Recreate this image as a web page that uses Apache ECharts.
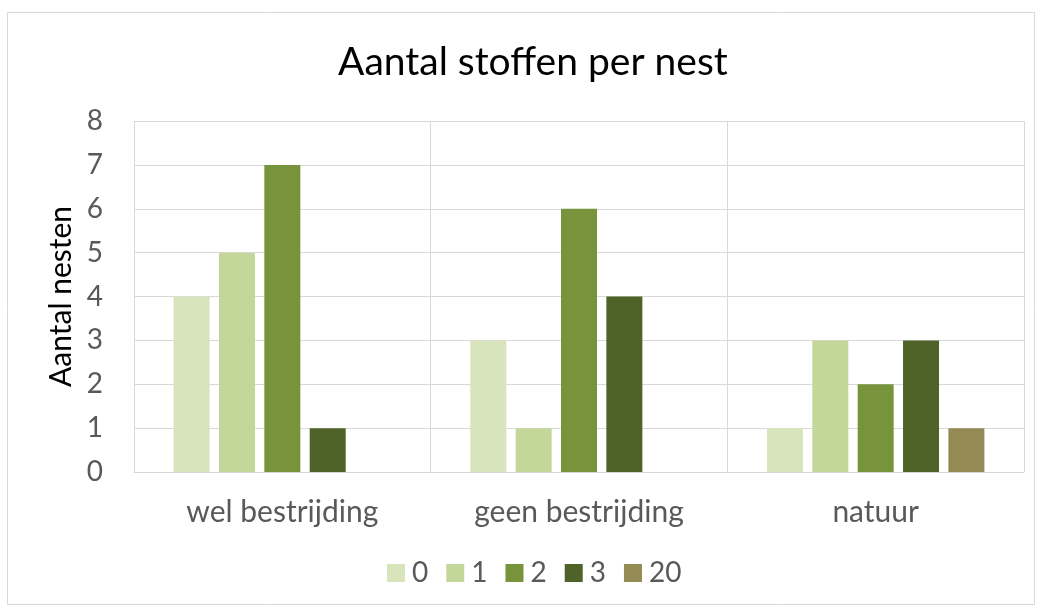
<!DOCTYPE html>
<html><head><meta charset="utf-8">
<script src="https://cdn.jsdelivr.net/npm/echarts@6/dist/echarts.min.js"></script>
<style>html,body{margin:0;padding:0;background:#fff}#c{width:1041px;height:609px}</style>
</head><body><div id="c"></div>
<script>
const categories = ['wel bestrijding', 'geen bestrijding', 'natuur'];
const seriesNames = ['0', '1', '2', '3', '20'];
const values0 = [4, 3, 1];
const values1 = [5, 1, 3];
const values2 = [7, 6, 2];
const values3 = [1, 4, 3];
const values20 = [null, null, 1];
const colors = ['#d8e4bc', '#c4d79b', '#77933c', '#4f6228', '#948a54'];
const allValues = [values0, values1, values2, values3, values20];
const font = 'Lato, sans-serif';
const chart = echarts.init(document.getElementById('c'));
chart.setOption({
  animation: false,
  title: { text: 'Aantal stoffen per nest', left: 333, top: 38,
    textStyle: { fontFamily: font, fontSize: 39, fontWeight: 'normal', color: '#000' } },
  graphic: [{ type: 'rect', shape: { x: 7.5, y: 12.5, width: 1027, height: 592 },
    style: { fill: 'none', stroke: '#d9d9d9', lineWidth: 1 }, silent: true }],
  legend: { bottom: 17, left: 382, itemWidth: 18, itemHeight: 18, itemGap: 18,
    icon: 'rect', textStyle: { fontFamily: font, fontSize: 28, color: '#595959', padding: [0,0,0,2] },
    data: seriesNames },
  grid: { left: 134, right: 17, top: 121, bottom: 137 },
  xAxis: { type: 'category', data: categories,
    axisLine: { lineStyle: { color: '#d9d9d9', width: 1 } }, axisTick: { show: false },
    splitLine: { show: true, lineStyle: { color: '#d9d9d9' } },
    axisLabel: { fontFamily: font, fontSize: 30, color: '#595959', margin: 25 } },
  yAxis: { type: 'value', min: 0, max: 8, interval: 1,
    name: 'Aantal nesten', nameLocation: 'middle', nameGap: 58, nameRotate: 90,
    nameTextStyle: { fontFamily: font, fontSize: 30, color: '#000' },
    axisLine: { show: false }, axisTick: { show: false },
    splitLine: { lineStyle: { color: '#d9d9d9' } },
    axisLabel: { fontFamily: font, fontSize: 28, color: '#595959', margin: 31 } },
  series: seriesNames.map((n, i) => ({
    name: n, type: 'bar', data: allValues[i], barWidth: 36, barGap: '26%',
    itemStyle: { color: colors[i] }
  }))
});
</script></body></html>
